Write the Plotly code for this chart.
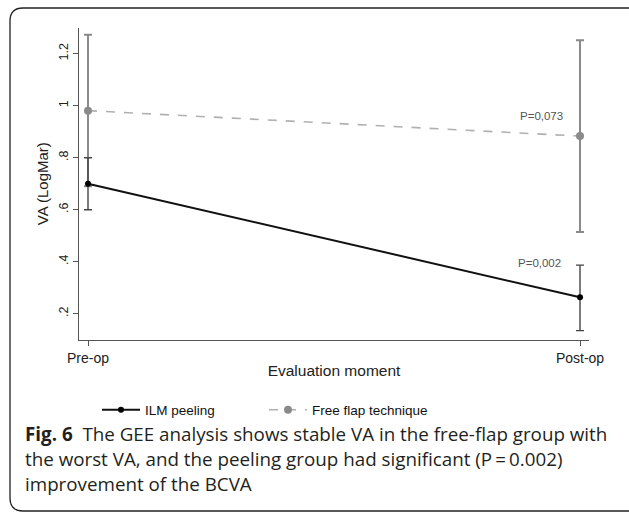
import plotly.graph_objects as go

categories = ["Pre-op", "Post-op"]
ilm_mean = [0.70, 0.263]
ilm_upper = [0.80, 0.387]
ilm_lower = [0.60, 0.135]
flap_mean = [0.981, 0.883]
flap_upper = [1.273, 1.252]
flap_lower = [0.69, 0.514]
ytick_vals = [0.2, 0.4, 0.6, 0.8, 1.0, 1.2]
ytick_text = [".2", ".4", ".6", ".8", "1", "1.2"]
p_labels = ["P=0,002", "P=0,073"]

W, H = 629, 514

fig = go.Figure()
fig.add_trace(go.Scatter(
    x=categories, y=flap_mean, name="Free flap technique", mode="lines+markers",
    line=dict(color="#b0b0b0", width=1.6, dash="dash"),
    marker=dict(color="#8a8a8a", size=8),
    error_y=dict(type="data", symmetric=False,
                 array=[u - m for u, m in zip(flap_upper, flap_mean)],
                 arrayminus=[m - l for m, l in zip(flap_mean, flap_lower)],
                 color="#8a8a8a", thickness=2, width=4),
    legendrank=2,
))
fig.add_trace(go.Scatter(
    x=categories, y=ilm_mean, name="ILM peeling", mode="lines+markers",
    line=dict(color="#111111", width=2),
    marker=dict(color="#000000", size=6),
    error_y=dict(type="data", symmetric=False,
                 array=[u - m for u, m in zip(ilm_upper, ilm_mean)],
                 arrayminus=[m - l for m, l in zip(ilm_mean, ilm_lower)],
                 color="#444444", thickness=1.4, width=4),
    legendrank=1,
))

def px_x(p):
    return p / W

def px_y(p):
    return 1 - p / H

FONT = "Liberation Sans, Arial"
tick_col = "#222222"

fig.update_layout(
    template="none",
    width=W, height=H,
    margin=dict(l=0, r=0, t=0, b=0),
    paper_bgcolor="white", plot_bgcolor="white",
    showlegend=True,
    legend=dict(orientation="h", x=px_x(97), y=px_y(410), xanchor="left", yanchor="middle",
                font=dict(family=FONT, size=13.5, color="#111111"),
                itemwidth=38, entrywidth=114, entrywidthmode="pixels",
                bgcolor="rgba(0,0,0,0)", traceorder="normal"),
    xaxis=dict(domain=[px_x(79), px_x(589)], type="category",
               range=[-0.0183, 1.0183], showline=True, linecolor="#555555", linewidth=1.3,
               showgrid=False, zeroline=False, ticks="outside", ticklen=5, tickcolor="#555555",
               tickfont=dict(family=FONT, size=14, color=tick_col), automargin=False,
               title=dict(text="Evaluation moment", font=dict(family=FONT, size=15.5, color=tick_col),
                          standoff=0)),
    yaxis=dict(domain=[px_y(339.7), px_y(27.7)], range=[0.1, 1.3],
               showline=True, linecolor="#555555", linewidth=1.3,
               showgrid=False, zeroline=False, ticks="outside", ticklen=5, tickcolor="#555555",
               tickvals=ytick_vals, ticktext=ytick_text, tickangle=-90,
               tickfont=dict(family=FONT, size=12.5, color=tick_col), automargin=False,
               title=dict(text="VA (LogMar)", font=dict(family=FONT, size=15, color=tick_col),
                          standoff=4)),
)

# P-value annotations
ann_font = dict(family=FONT, size=11.5, color="#555555")
fig.add_annotation(x=categories[1], y=0.395, text=p_labels[0], showarrow=False,
                   xanchor="right", yanchor="middle", xshift=-17, font=ann_font)
fig.add_annotation(x=categories[1], y=0.96, text=p_labels[1], showarrow=False,
                   xanchor="right", yanchor="middle", xshift=-15, font=ann_font)

# Caption
cap_font = dict(family="Open Sans", size=18.8, color="#231f20")
cap_lines = [
    "<b>Fig. 6</b>  The GEE analysis shows stable VA in the free-flap group with",
    "the worst VA, and the peeling group had significant (P\u2009=\u20090.002)",
    "improvement of the BCVA",
]
cap_y = [434, 459, 484]
for t, yy in zip(cap_lines, cap_y):
    fig.add_annotation(xref="paper", yref="paper", x=px_x(23), y=px_y(yy), text=t,
                       showarrow=False, xanchor="left", yanchor="middle", align="left",
                       font=cap_font)

# Rounded frame
x0, y0, r = 10, 8, 13
yb = 511
path = (f"M {px_x(640)},{px_y(y0)} L {px_x(x0 + r)},{px_y(y0)} "
        f"Q {px_x(x0)},{px_y(y0)} {px_x(x0)},{px_y(y0 + r)} "
        f"L {px_x(x0)},{px_y(yb - r)} Q {px_x(x0)},{px_y(yb)} {px_x(x0 + r)},{px_y(yb)} "
        f"L {px_x(640)},{px_y(yb)}")
fig.add_shape(type="path", path=path, xref="paper", yref="paper",
              line=dict(color="#222222", width=1.3))

fig.write_html("out.html")
